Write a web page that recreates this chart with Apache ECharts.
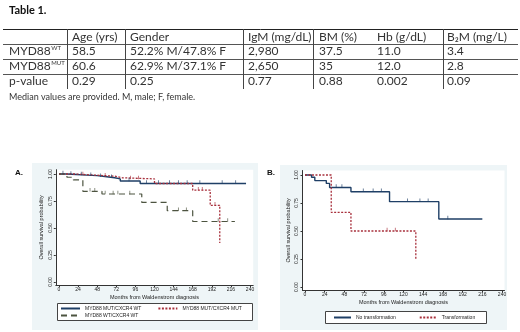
<!DOCTYPE html>
<html>
<head>
<meta charset="utf-8">
<script src="https://cdn.jsdelivr.net/npm/echarts@6.0.0/dist/echarts.min.js"></script>
<style>
  html, body { margin: 0; padding: 0; background: #fff; }
  #chart { width: 520px; height: 332px; }
</style>
</head>
<body>
<div id="chart"></div>
<script>
// ---- Table 1 ----
const tableHeader = ['', 'Age (yrs)', 'Gender', 'IgM (mg/dL)', 'BM (%)', 'Hb (g/dL)', 'B₂M (mg/L)'];
const rowWt = ['MYD88', '58.5', '52.2% M/47.8% F', '2,980', '37.5', '11.0', '3.4'];
const rowMut = ['MYD88', '60.6', '62.9% M/37.1% F', '2,650', '35', '12.0', '2.8'];
const rowP = ['p-value', '0.29', '0.25', '0.77', '0.88', '0.002', '0.09'];
const rowSup = ['', 'WT', 'MUT', ''];
const tableNote = 'Median values are provided. M, male; F, female.';

// ---- KM curves, [month, survival] ----
const aMutWt = [[0, 1], [10, 0.995], [22, 0.99], [35, 0.985], [48, 0.975], [60, 0.965], [70, 0.955], [77, 0.935], [102, 0.912], [235, 0.912]];
const aMutMut = [[0, 1], [20, 0.99], [45, 0.98], [70, 0.965], [80, 0.955], [120, 0.912], [168, 0.85], [190, 0.71], [202, 0.36]];
const aWtWt = [[0, 1], [10, 0.97], [18, 0.945], [30, 0.84], [54, 0.815], [104, 0.737], [136, 0.66], [168, 0.56], [221, 0.56]];
const bNoTrans = [[0, 1], [8, 0.98], [12, 0.95], [26, 0.925], [30, 0.888], [56, 0.851], [103, 0.762], [163, 0.607], [216, 0.607]];
const bTrans = [[0, 1], [32, 0.667], [56, 0.5], [135, 0.25]];

// censored times
const aMutWtCens = [5, 15, 28, 40, 52, 66, 88, 110, 125, 139, 150, 161, 177, 205, 222];
const aMutMutCens = [30, 58, 90, 100, 175, 180, 196];
const aWtWtCens = [39, 45, 58, 68, 74, 89, 150, 160, 200, 212];
const bNoTransCens = [38, 45, 71, 83, 93, 125, 140, 150, 174];
const bTransCens = [100, 110];

const monthTicks = [0, 24, 48, 72, 96, 120, 144, 168, 192, 216, 240];
const survTicks = [0, 0.25, 0.5, 0.75, 1];

const namesA = ['MYD88 MUT/CXCR4 WT', 'MYD88 MUT/CXCR4 MUT', 'MYD88 WT/CXCR4 WT'];
const namesB = ['No transformation', 'Transformation'];

// ---- helpers ----
function survAt(curve, t) {
  let s = curve[0][1];
  for (const p of curve) if (p[0] <= t) s = p[1];
  return s;
}
function cens(curve, times) {
  return times.map(t => [t, survAt(curve, t)]);
}

const FONT = 'Lato, "Liberation Sans", sans-serif';
const AXFONT = '"Liberation Sans", Arial, sans-serif';
const TFS = 12;
const ctx = document.createElement('canvas').getContext('2d');
ctx.font = TFS + 'px ' + FONT;

const colX = [9, 72, 130, 248, 319, 377, 447];
const rowY = [37, 51.5, 66.5, 81.5];
const vLines = [67, 125, 243, 313, 443];
const hLines = [29, 44, 59, 74];

const graphics = [];
// stata-like graph regions
graphics.push({ type: 'rect', z: -10, shape: { x: 32, y: 163, width: 226, height: 167 }, style: { fill: '#eef5f7' } });
graphics.push({ type: 'rect', z: -10, shape: { x: 280, y: 165, width: 227, height: 165 }, style: { fill: '#eef5f7' } });
// legend boxes
graphics.push({ type: 'rect', z: 1, shape: { x: 57.5, y: 303.5, width: 195, height: 17 }, style: { fill: '#fff', stroke: '#444', lineWidth: 1 } });
graphics.push({ type: 'rect', z: 1, shape: { x: 325.5, y: 311.5, width: 161, height: 12 }, style: { fill: '#fff', stroke: '#444', lineWidth: 1 } });

graphics.push({ type: 'text', x: 9, y: 10, style: { text: 'Table 1.', fontSize: 11, fontWeight: 'bold', fontFamily: FONT, fill: '#111', verticalAlign: 'middle' } });
hLines.forEach((y, i) => {
  graphics.push({ type: 'line', shape: { x1: 3, y1: y + 0.5, x2: 518, y2: y + 0.5 }, style: { stroke: i === 0 ? '#222' : '#555', lineWidth: 1 } });
});
vLines.forEach(x => {
  graphics.push({ type: 'line', shape: { x1: x + 0.5, y1: hLines[0], x2: x + 0.5, y2: 89 }, style: { stroke: '#444', lineWidth: 1 } });
});
[tableHeader, rowWt, rowMut, rowP].forEach((row, r) => {
  row.forEach((txt, c) => {
    if (!txt) return;
    graphics.push({ type: 'text', x: colX[c], y: rowY[r], style: { text: txt, fontSize: TFS, fontFamily: FONT, fill: '#333', verticalAlign: 'middle' } });
  });
  if (rowSup[r]) {
    const w = ctx.measureText(row[0]).width;
    graphics.push({ type: 'text', x: colX[0] + w + 0.5, y: rowY[r] - 3.5, style: { text: rowSup[r], fontSize: 6, fontFamily: FONT, fill: '#333', verticalAlign: 'middle' } });
  }
});
graphics.push({ type: 'text', x: 9, y: 97, style: { text: tableNote, fontSize: 9, fontFamily: FONT, fill: '#333', verticalAlign: 'middle' } });
graphics.push({ type: 'text', x: 15, y: 173, style: { text: 'A.', fontSize: 8, fontWeight: 'bold', fontFamily: AXFONT, fill: '#111', verticalAlign: 'middle' } });
graphics.push({ type: 'text', x: 267, y: 173, style: { text: 'B.', fontSize: 8, fontWeight: 'bold', fontFamily: AXFONT, fill: '#111', verticalAlign: 'middle' } });

function xAx(gi, min, max) {
  return {
    type: 'value', gridIndex: gi, min: min, max: max,
    name: 'Months from Waldenstrom diagnosis', nameLocation: 'middle', nameGap: 9,
    nameTextStyle: { fontSize: 5.5, color: '#222', fontFamily: AXFONT },
    axisLine: { onZero: false, lineStyle: { color: '#333', width: 1 } },
    axisTick: { customValues: monthTicks, length: 2, lineStyle: { color: '#333' } },
    axisLabel: { customValues: monthTicks, fontSize: 5, margin: 2, color: '#222', fontFamily: AXFONT },
    splitLine: { show: false }
  };
}
function yAx(gi) {
  return {
    type: 'value', gridIndex: gi, min: -0.03, max: 1.04,
    name: 'Overall survival probability', nameLocation: 'middle', nameGap: 11,
    nameTextStyle: { fontSize: 5.5, color: '#222', fontFamily: AXFONT },
    axisLine: { show: true, onZero: false, lineStyle: { color: '#333', width: 1 } },
    axisTick: { show: true, customValues: survTicks, length: 2, lineStyle: { color: '#333' } },
    axisLabel: { customValues: survTicks, rotate: 90, fontSize: 5, margin: 3, color: '#222', fontFamily: AXFONT,
      formatter: v => v.toFixed(2) },
    splitLine: { show: false }
  };
}
function km(name, data, gi, color, type, width) {
  return {
    name: name, type: 'line', xAxisIndex: gi, yAxisIndex: gi, data: data, step: 'end',
    symbol: 'none', lineStyle: { color: color, width: width, type: type }, itemStyle: { color: color },
    z: 3
  };
}
function censSeries(name, data, gi, color) {
  return {
    name: name + ' cens', type: 'scatter', xAxisIndex: gi, yAxisIndex: gi, data: data,
    symbol: 'rect', symbolSize: [0.8, 3.5], symbolOffset: [0, -1.5], itemStyle: { color: color }, z: 4
  };
}

const NAVY = '#1f3f66', MAROON = '#a8303c', OLIVE = '#4d5440';
const legText = { fontSize: 5, color: '#222', fontFamily: AXFONT };
const legBase = { padding: 0, itemHeight: 5, textStyle: legText, selectedMode: false, z: 5, itemStyle: { opacity: 0 } };

const option = {
  animation: false,
  backgroundColor: '#fff',
  graphic: graphics,
  grid: [
    { left: 55.8, top: 169.7, width: 197.4, height: 115.5, show: true, backgroundColor: '#fff', borderWidth: 0 },
    { left: 302.5, top: 170.5, width: 202, height: 119.9, show: true, backgroundColor: '#fff', borderWidth: 0 }
  ],
  xAxis: [xAx(0, -4, 244), xAx(1, -3, 243)],
  yAxis: [yAx(0), yAx(1)],
  legend: [
    Object.assign({ data: [namesA[0], namesA[1]], left: 60, top: 306, itemWidth: 19, itemGap: 16 }, legBase),
    Object.assign({ data: [namesA[2]], left: 60, top: 313, itemWidth: 19 }, legBase),
    Object.assign({ data: namesB, left: 333, top: 315, itemWidth: 17, itemGap: 23 }, legBase)
  ],
  series: [
    km(namesA[0], aMutWt, 0, NAVY, 'solid', 1.4),
    km(namesA[1], aMutMut, 0, MAROON, [2, 1.5], 1.3),
    km(namesA[2], aWtWt, 0, OLIVE, [6, 4], 1.2),
    censSeries(namesA[0], cens(aMutWt, aMutWtCens), 0, NAVY),
    censSeries(namesA[1], cens(aMutMut, aMutMutCens), 0, MAROON),
    censSeries(namesA[2], cens(aWtWt, aWtWtCens), 0, OLIVE),
    km(namesB[0], bNoTrans, 1, NAVY, 'solid', 1.4),
    km(namesB[1], bTrans, 1, MAROON, [2, 1.5], 1.3),
    censSeries(namesB[0], cens(bNoTrans, bNoTransCens), 1, NAVY),
    censSeries(namesB[1], cens(bTrans, bTransCens), 1, MAROON)
  ]
};

const chart = echarts.init(document.getElementById('chart'), null, { renderer: 'canvas' });
chart.setOption(option);
</script>
</body>
</html>
